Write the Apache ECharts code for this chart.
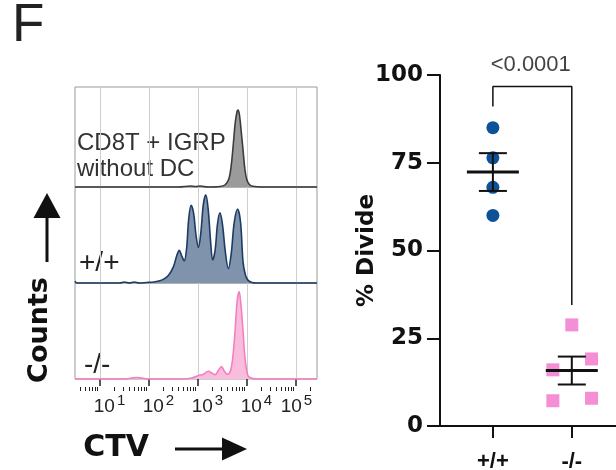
<!DOCTYPE html>
<html>
<head>
<meta charset="utf-8">
<script src="https://cdn.jsdelivr.net/npm/echarts@6.0.0/dist/echarts.min.js"></script>
<style>
  html, body { margin: 0; padding: 0; background: #fff; }
  #chart { width: 616px; height: 470px; }
</style>
</head>
<body>
<div id="chart"></div>
<script>
// histograms: x is log10(CTV), y is counts scaled to the row height
const logMin = 0.49, logMax = 5.43;
const decadeTicks = [1, 2, 3, 4, 5];
const minorTicks = [];
for (let n = 0; n <= 5; n++) {
  for (let k = 2; k <= 9; k++) {
    const v = n + Math.log10(k);
    if (v > logMin && v < logMax) minorTicks.push(v);
  }
}

const grayLog   = [0.49, 1.5, 2.0, 2.6, 2.85, 2.95, 3.05, 3.2, 3.45, 3.55, 3.63, 3.68, 3.72, 3.76, 3.80, 3.82, 3.85, 3.88, 3.92, 3.96, 4.00, 4.05, 4.12, 4.3, 5.43];
const grayCount = [0,    0,   0,   0,   0.01, 0.005, 0.01, 0,  0.005, 0.02, 0.08, 0.22, 0.42, 0.64, 0.76, 0.77, 0.71, 0.57, 0.37, 0.17, 0.07, 0.025, 0.008, 0, 0];

const blueLog   = [0.49, 0.53, 0.6, 1.4, 1.5, 1.6, 1.7, 1.8, 1.95, 2.1, 2.2, 2.3, 2.4, 2.5, 2.57, 2.62, 2.67, 2.72, 2.77, 2.81, 2.86, 2.91, 2.96, 3.01, 3.06, 3.11, 3.16, 3.21, 3.26, 3.30, 3.35, 3.40, 3.45, 3.50, 3.56, 3.62, 3.68, 3.74, 3.81, 3.87, 3.92, 3.97, 4.02, 4.1, 4.2, 5.43];
const blueCount = [0.02, 0,    0,   0,   0.01, 0,   0.01, 0,  0.005, 0.01, 0.02, 0.04, 0.08, 0.17, 0.29, 0.34, 0.28, 0.23, 0.37, 0.66, 0.81, 0.73, 0.5, 0.37, 0.53, 0.82, 0.92, 0.76, 0.42, 0.24, 0.34, 0.62, 0.73, 0.61, 0.32, 0.15, 0.31, 0.63, 0.77, 0.63, 0.22, 0.08, 0.03, 0.005, 0, 0];

const pinkLog   = [0.49, 1.5, 1.65, 1.75, 1.85, 2.0, 2.7, 2.87, 3.0, 3.11, 3.21, 3.29, 3.35, 3.42, 3.48, 3.54, 3.60, 3.66, 3.71, 3.76, 3.80, 3.84, 3.88, 3.92, 3.96, 4.01, 4.06, 4.2, 5.43];
const pinkCount = [0,    0,   0.01, 0.015, 0.01, 0,  0,   0.01, 0.035, 0.05, 0.08, 0.06, 0.045, 0.09, 0.13, 0.08, 0.05, 0.08, 0.22, 0.52, 0.81, 0.91, 0.76, 0.5, 0.22, 0.05, 0.015, 0, 0];

// % divide
const groups = ['+/+', '-/-'];
const wtX = [1, 1, 1, 1];
const wtY = [85, 76.4, 68, 60];
const koX = [2.0, 2.25, 1.76, 1.76, 2.25];
const koY = [28.8, 19.1, 16.0, 7.2, 7.9];
const bracketX = [1, 1, 2, 2];
const bracketY = [91, 96.7, 96.7, 34.5];
const pValue = '<0.0001';

function meanSem(arr) {
  const m = arr.reduce((a, b) => a + b, 0) / arr.length;
  const sd = Math.sqrt(arr.reduce((a, b) => a + (b - m) * (b - m), 0) / (arr.length - 1));
  return [m, sd / Math.sqrt(arr.length)];
}
const wtStat = meanSem(wtY);
const koStat = meanSem(koY);

const boldFont = 'DejaVu Sans';
const normFont = 'Liberation Sans';

function hist(idx, xs, ys, line, fill) {
  return {
    type: 'line', xAxisIndex: idx, yAxisIndex: idx,
    data: xs.map((x, i) => [x, ys[i]]),
    smooth: 0.35, symbol: 'none', clip: false, silent: true,
    lineStyle: { color: line, width: 1.6 },
    areaStyle: { color: fill, opacity: 1 }
  };
}

function histAxis(idx) {
  return {
    type: 'value', gridIndex: idx, min: logMin, max: logMax,
    axisLine: { show: false },
    axisTick: { show: false, customValues: decadeTicks },
    axisLabel: { show: false },
    splitLine: { show: true, lineStyle: { color: '#cfcfcf', width: 1 } }
  };
}

const bottomAxis = histAxis(2);
bottomAxis.position = 'bottom';
bottomAxis.axisTick = { show: true, customValues: decadeTicks, length: 7, lineStyle: { color: '#222', width: 1.5 } };
bottomAxis.axisLabel = {
  show: true, customValues: decadeTicks, margin: 14,
  formatter: v => (v === 5 ? '{c|10}' : '{b|10}') + '{s|' + v + '}',
  rich: {
    b: { fontFamily: normFont, fontSize: 19, color: '#222', padding: [0, 0, 0, 19] },
    c: { fontFamily: normFont, fontSize: 19, color: '#222', padding: [0, 0, 0, 1] },
    s: { fontFamily: normFont, fontSize: 15, color: '#222', padding: [0, 0, 12, 2] }
  }
};

// minor log ticks: top axis of a thin strip just under the bottom row, ticks pointing down
const minorAxis = {
  type: 'value', gridIndex: 4, min: logMin, max: logMax, position: 'top',
  axisLine: { show: false },
  axisTick: { show: true, inside: true, customValues: minorTicks, length: 4, lineStyle: { color: '#222', width: 1 } },
  axisLabel: { show: false }, splitLine: { show: false }
};

const chart = echarts.init(document.getElementById('chart'));
chart.setOption({
  animation: false,
  grid: [
    { left: 75, top: 87, width: 242, height: 100, show: true, borderColor: '#9a9a9a', borderWidth: 1, outerBoundsMode: 'none' },
    { left: 75, top: 187, width: 242, height: 96, show: true, borderColor: '#9a9a9a', borderWidth: 1, outerBoundsMode: 'none' },
    { left: 75, top: 283, width: 242, height: 96, show: true, borderColor: '#9a9a9a', borderWidth: 1, outerBoundsMode: 'none' },
    { left: 440, top: 75, right: 0, height: 351, outerBoundsMode: 'none' },
    { left: 75, top: 379, width: 242, height: 8, outerBoundsMode: 'none' }
  ],
  xAxis: [
    histAxis(0), histAxis(1), bottomAxis, minorAxis,
    {
      type: 'value', gridIndex: 3, min: 0.33, max: 2.56,
      axisLine: { lineStyle: { color: '#111', width: 2 } },
      axisTick: { customValues: [1, 2], length: 12, lineStyle: { color: '#111', width: 2 } },
      axisLabel: {
        customValues: [1, 2], margin: 25, color: '#111',
        fontFamily: normFont, fontWeight: 'bold', fontSize: 22,
        formatter: v => groups[Math.round(v) - 1]
      },
      splitLine: { show: false }
    }
  ],
  yAxis: [
    { type: 'value', gridIndex: 0, min: 0, max: 1, show: false },
    { type: 'value', gridIndex: 1, min: 0, max: 1, show: false },
    { type: 'value', gridIndex: 2, min: 0, max: 1, show: false },
    {
      type: 'value', gridIndex: 3, min: 0, max: 100, interval: 25,
      name: '% Divide', nameLocation: 'middle', nameGap: 61, nameMoveOverlap: false,
      nameTextStyle: { fontFamily: boldFont, fontWeight: 'bold', fontSize: 23, color: '#111' },
      axisLine: { show: true, lineStyle: { color: '#111', width: 2 } },
      axisTick: { show: true, length: 13, lineStyle: { color: '#111', width: 2 } },
      axisLabel: { margin: 17, fontFamily: boldFont, fontWeight: 'bold', fontSize: 23, color: '#111' },
      splitLine: { show: false }
    },
    { type: 'value', gridIndex: 4, min: 0, max: 1, show: false }
  ],
  series: [
    hist(0, grayLog, grayCount, '#3c3c3c', '#9b9b9b'),
    hist(1, blueLog, blueCount, '#1d3c63', '#8093ad'),
    hist(2, pinkLog, pinkCount, '#f47fbf', '#f9bcdd'),
    {
      type: 'line', xAxisIndex: 4, yAxisIndex: 3, clip: false,
      data: bracketX.map((x, i) => [x, bracketY[i]]),
      symbol: 'none', lineStyle: { color: '#111', width: 1.5 }, silent: true
    },
    {
      type: 'scatter', xAxisIndex: 4, yAxisIndex: 3, clip: false,
      data: [[1.48, 103]], symbolSize: 0, silent: true,
      label: { show: true, position: 'inside', formatter: pValue, fontFamily: normFont, fontSize: 22, color: '#111' }
    },
    {
      type: 'scatter', xAxisIndex: 4, yAxisIndex: 3,
      data: wtX.map((x, i) => [x, wtY[i]]),
      symbol: 'circle', symbolSize: 13, itemStyle: { color: '#0d5196', opacity: 1 }
    },
    {
      type: 'scatter', xAxisIndex: 4, yAxisIndex: 3,
      data: koX.map((x, i) => [x, koY[i]]),
      symbol: 'rect', symbolSize: 13, itemStyle: { color: '#f48fd6', opacity: 1 }
    },
    {
      type: 'custom', xAxisIndex: 4, yAxisIndex: 3, z: 5, silent: true,
      data: [[1, wtStat[0], wtStat[1]], [2, koStat[0], koStat[1]]],
      renderItem: (params, api) => {
        const x = api.value(0), m = api.value(1), e = api.value(2);
        const c = api.coord([x, m]);
        const t = api.coord([x, m + e])[1];
        const b = api.coord([x, m - e])[1];
        const s = { stroke: '#111', lineWidth: 2 };
        return {
          type: 'group', children: [
            { type: 'line', shape: { x1: c[0] - 26, y1: c[1], x2: c[0] + 26, y2: c[1] }, style: { stroke: '#111', lineWidth: 3 } },
            { type: 'line', shape: { x1: c[0], y1: t, x2: c[0], y2: b }, style: s },
            { type: 'line', shape: { x1: c[0] - 14, y1: t, x2: c[0] + 14, y2: t }, style: s },
            { type: 'line', shape: { x1: c[0] - 14, y1: b, x2: c[0] + 14, y2: b }, style: s }
          ]
        };
      }
    }
  ],
  graphic: [
    { type: 'text', left: 12, top: 0, style: { text: 'F', fontFamily: normFont, fontSize: 53, fill: '#222' } },
    { type: 'text', left: 77, top: 130, style: { text: 'CD8T + IGRP\nwithout DC', fontFamily: normFont, fontSize: 24, lineHeight: 26, fill: '#333' } },
    { type: 'text', left: 79, top: 249, style: { text: '+/+', fontFamily: normFont, fontSize: 28, fill: '#222' } },
    { type: 'text', left: 84, top: 351, style: { text: '-/-', fontFamily: normFont, fontSize: 28, fill: '#222' } },
    {
      type: 'text', x: 40, y: 330, rotation: Math.PI / 2,
      style: { text: 'Counts', fontFamily: boldFont, fontWeight: 'bold', fontSize: 27, fill: '#111', align: 'center', verticalAlign: 'middle' }
    },
    { type: 'line', shape: { x1: 47, y1: 262, x2: 47, y2: 216 }, style: { stroke: '#111', lineWidth: 3 } },
    { type: 'polygon', shape: { points: [[47, 193], [33.5, 218], [60.5, 218]] }, style: { fill: '#111' } },
    {
      type: 'text', x: 116, y: 448,
      style: { text: 'CTV', fontFamily: boldFont, fontWeight: 'bold', fontSize: 30, fill: '#111', align: 'center', verticalAlign: 'middle' }
    },
    { type: 'line', shape: { x1: 175, y1: 449, x2: 225, y2: 449 }, style: { stroke: '#111', lineWidth: 3 } },
    { type: 'polygon', shape: { points: [[247, 449], [222, 437.5], [222, 460.5]] }, style: { fill: '#111' } }
  ]
});
</script>
</body>
</html>
